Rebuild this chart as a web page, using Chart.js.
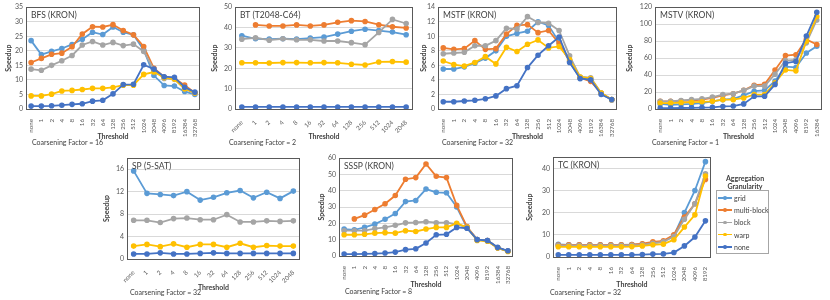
<!DOCTYPE html>
<html>
<head>
<meta charset="utf-8">
<script src="https://cdn.jsdelivr.net/npm/chart.js@4.4.1/dist/chart.umd.min.js"></script>
<style>
body { margin: 0; width: 830px; height: 300px; background: #fff; position: relative; overflow: hidden; font-family: Lato, sans-serif; }
canvas { position: absolute; }
.note { position: absolute; font-size: 7px; color: #404040; white-space: nowrap; line-height: 10px; }
#legend { position: absolute; left: 716px; top: 190px; width: 51px; height: 62px; border: 1px solid #a6a6a6; }
.ltitle { position: absolute; left: 702px; width: 86px; text-align: center; font-size: 7px; font-weight: bold; color: #404040; line-height: 9px; }
.litem { position: absolute; left: 1px; height: 10px; font-size: 7px; color: #404040; line-height: 10px; white-space: nowrap; }
.lline { position: absolute; left: 0px; top: 4.2px; width: 14px; height: 1.6px; }
.ldot { position: absolute; left: 5px; top: 3.2px; width: 3.6px; height: 3.6px; border-radius: 50%; }
.ltext { position: absolute; left: 16px; top: 0; }
</style>
</head>
<body>
<canvas id="bfs" width="205" height="150" style="left:0px;top:0px"></canvas>
<canvas id="bt" width="213" height="150" style="left:205px;top:0px"></canvas>
<canvas id="mstf" width="207" height="150" style="left:418px;top:0px"></canvas>
<canvas id="mstv" width="205" height="150" style="left:625px;top:0px"></canvas>
<canvas id="sp" width="218" height="150" style="left:100px;top:150px"></canvas>
<canvas id="sssp" width="202" height="150" style="left:318px;top:150px"></canvas>
<canvas id="tc" width="195" height="150" style="left:520px;top:150px"></canvas>

<div class="note" style="left:32px;top:137px">Coarsening Factor = 16</div>
<div class="note" style="left:229px;top:137px">Coarsening Factor = 2</div>
<div class="note" style="left:442px;top:137px">Coarsening Factor = 32</div>
<div class="note" style="left:652px;top:137px">Coarsening Factor = 1</div>
<div class="note" style="left:130px;top:287px">Coarsening Factor = 32</div>
<div class="note" style="left:345px;top:286px">Coarsening Factor = 8</div>
<div class="note" style="left:550px;top:287px">Coarsening Factor = 32</div>

<div class="ltitle" style="top:174px">Aggregation</div>
<div class="ltitle" style="top:182px">Granularity</div>
<div id="legend"></div>

<script>
// tick labels (threshold)
const thr17 = ['none', '1', '2', '4', '8', '16', '32', '64', '128', '256', '512', '1024', '2048', '4096', '8192', '16384', '32768'];
const thr16 = ['none', '1', '2', '4', '8', '16', '32', '64', '128', '256', '512', '1024', '2048', '4096', '8192', '16384'];
const thr15 = ['none', '1', '2', '4', '8', '16', '32', '64', '128', '256', '512', '1024', '2048', '4096', '8192'];
const thr13 = ['none', '1', '2', '4', '8', '16', '32', '64', '128', '256', '512', '1024', '2048'];

const seriesNames = ['grid', 'multi-block', 'block', 'warp', 'none'];
const seriesColors = ['#5B9BD5', '#ED7D31', '#A5A5A5', '#FFC000', '#4472C4'];

// BFS (KRON)
const bfsGrid  = [23.5, 18.7, 19.8, 20.8, 22.2, 24.0, 26.4, 25.6, 28.2, 26.4, 25.5, 20.3, 11.5, 8.1, 7.9, 6.0, 5.0];
const bfsMulti = [16.0, 17.4, 18.8, 19.2, 21.4, 25.8, 28.3, 28.2, 29.0, 27.0, 25.5, 21.5, 14.0, 11.0, 10.5, 8.2, 5.6];
const bfsBlock = [13.7, 13.3, 15.0, 16.6, 18.4, 22.0, 23.2, 22.0, 22.9, 21.8, 22.3, 19.8, 13.5, 10.5, 10.2, 7.0, 5.4];
const bfsWarp  = [4.5, 4.5, 5.1, 6.2, 6.4, 6.7, 7.1, 7.1, 7.4, 8.2, 8.2, 11.9, 12.7, 10.8, 10.3, 7.0, 5.5];
const bfsNone  = [1.0, 1.0, 1.1, 1.3, 1.6, 1.8, 2.7, 3.0, 5.2, 8.4, 8.5, 15.2, 13.7, 11.1, 10.9, 7.5, 5.8];

// BT (T2048-C64)
const btGrid  = [36.0, 34.5, 34.3, 34.5, 34.3, 34.8, 35.3, 36.8, 38.2, 39.2, 38.5, 37.8, 36.5];
const btMulti = [null, 41.3, 40.8, 40.8, 41.3, 40.8, 41.3, 42.6, 43.4, 43.0, 41.4, 40.4, 39.8];
const btBlock = [34.3, 35.0, 33.8, 34.5, 34.0, 34.0, 33.4, 33.4, 32.6, 31.6, 37.6, 44.0, 42.0];
const btWarp  = [22.7, 22.7, 22.6, 22.8, 22.8, 22.7, 22.8, 22.7, 22.0, 21.6, 23.1, 23.3, 23.0];
const btNone  = [1.0, 1.0, 1.0, 1.0, 1.0, 1.0, 1.0, 1.0, 1.0, 1.0, 1.0, 1.0, 1.0];

// MSTF (KRON)
const mstfGrid  = [5.5, 5.5, 5.8, 6.3, 7.0, 8.0, 10.0, 10.4, 10.7, 12.0, 11.5, 9.2, 6.5, 4.2, 4.1, 2.1, 1.3];
const mstfMulti = [8.4, 8.2, 8.3, 9.4, 8.2, 8.3, 10.3, 11.5, 11.6, 10.5, 10.8, 9.0, 6.6, 4.3, 3.8, 2.2, 1.3];
const mstfBlock = [7.6, 7.7, 7.8, 8.7, 8.7, 9.4, 11.1, 11.0, 12.7, 11.9, 11.8, 10.8, 7.3, 4.4, 4.3, 2.2, 1.2];
const mstfWarp  = [6.6, 6.1, 5.9, 6.4, 7.2, 6.2, 8.5, 7.9, 8.9, 9.5, 8.4, 8.6, 6.8, 4.4, 4.2, 2.2, 1.3];
const mstfNone  = [1.0, 1.0, 1.1, 1.2, 1.4, 1.8, 2.8, 3.2, 5.7, 7.4, 8.7, 9.9, 6.4, 4.2, 4.0, 2.0, 1.3];

// MSTV (KRON)
const mstvGrid  = [6, 5, 5.5, 6, 7, 9, 11, 12, 16, 21, 22, 33, 50, 49, 66, 74];
const mstvMulti = [9, 9, 9.5, 10, 11, 13, 16, 18, 22, 28, 29, 46, 63, 64, 82, 76];
const mstvBlock = [9, 9, 10, 11, 12, 14, 17, 18, 22, 27, 27, 41, 57, 58, 78, 105];
const mstvWarp  = [7, 7, 7.5, 8, 8.5, 9, 11, 11, 13, 17, 17, 31, 46, 45, 80, 109];
const mstvNone  = [1, 1, 1.2, 1.4, 1.7, 2, 3, 3.5, 6, 15, 15, 29, 54, 56, 86, 114];

// SP (5-SAT)
const spGrid  = [15.7, 11.7, 11.5, 11.3, 12.0, 10.5, 11.0, 11.8, 12.2, 10.9, 11.9, 10.8, 12.1];
const spBlock = [6.9, 6.9, 6.5, 7.2, 7.3, 7.0, 7.0, 7.9, 6.6, 6.6, 6.8, 6.7, 6.8];
const spWarp  = [2.3, 2.6, 2.2, 2.7, 2.1, 2.6, 2.6, 2.1, 2.8, 2.1, 2.4, 2.3, 2.3];
const spNone  = [0.9, 0.9, 1.1, 0.9, 0.9, 1.0, 1.1, 1.0, 1.0, 1.0, 1.0, 1.0, 1.0];

// SSSP (KRON)
const ssspGrid  = [16.5, 16.0, 17.5, 19.5, 22.5, 26.0, 33.3, 34.0, 41.0, 39.0, 38.7, 30.0, 17.5, 10.0, 9.5, 5.0, 3.0];
const ssspMulti = [null, 22.7, 25.0, 28.5, 32.0, 37.0, 47.0, 48.0, 56.3, 48.8, 48.0, 31.0, 18.0, 10.0, 9.5, 5.0, 3.0];
const ssspBlock = [15.5, 15.5, 15.5, 16.8, 17.5, 18.8, 20.3, 20.5, 21.0, 20.4, 20.4, 19.5, 17.5, 10.0, 9.5, 5.0, 3.0];
const ssspWarp  = [13.0, 13.0, 13.3, 14.0, 14.3, 14.0, 15.5, 15.0, 16.5, 17.5, 17.5, 20.0, 17.5, 9.5, 9.0, 5.0, 2.8];
const ssspNone  = [1.2, 1.2, 1.3, 1.5, 1.8, 2.4, 3.9, 4.4, 8.0, 13.0, 13.3, 17.5, 17.0, 10.0, 9.5, 5.3, 3.2];

// TC (KRON)
const tcGrid  = [5.7, 5.5, 5.5, 5.5, 5.5, 5.5, 5.5, 5.6, 5.8, 6.3, 7.0, 9.8, 20.0, 30.0, 43.0];
const tcMulti = [5.4, 5.5, 5.5, 5.5, 5.5, 5.5, 5.5, 5.6, 6.0, 6.8, 7.3, 10.0, 18.0, 24.0, 35.0];
const tcBlock = [5.2, 5.2, 5.2, 5.2, 5.2, 5.2, 5.2, 5.3, 5.5, 6.2, 6.8, 9.2, 17.0, 24.0, 37.5];
const tcWarp  = [4.6, 4.6, 4.6, 4.6, 4.6, 4.6, 4.6, 4.7, 5.0, 5.5, 5.8, 7.8, 13.5, 19.0, 36.5];
const tcNone  = [1.0, 1.0, 1.0, 1.0, 1.0, 1.0, 1.0, 1.0, 1.1, 1.3, 1.4, 2.0, 5.0, 9.0, 16.3];

const FONT = 'Lato, sans-serif';
const LH = 8.4; // 7px * 1.2

// plot frame + title inside the plot area
const framePlugin = {
    id: 'frame',
    beforeDatasetsDraw(chart) {
        const a = chart.chartArea, ctx = chart.ctx;
        ctx.save();
        ctx.strokeStyle = '#595959';
        ctx.lineWidth = 1;
        ctx.strokeRect(Math.round(a.left) + 0.5, Math.round(a.top) + 0.5,
            Math.round(a.right - a.left) - 1, Math.round(a.bottom - a.top));
        ctx.restore();
    },
    afterDraw(chart, args, opts) {
        const a = chart.chartArea, ctx = chart.ctx;
        ctx.save();
        ctx.fillStyle = '#404040';
        ctx.font = '8.5px ' + FONT;
        ctx.textBaseline = 'middle';
        ctx.fillText(opts.text, a.left + 5, a.top + 8);
        ctx.restore();
    }
};

// canvas = [left, top, width, height], area = [left, top, right, bottom] in page px
function makeChart(id, title, labels, series, yMax, yStep, rot, canvas, area, yTitleX, xTitleY) {
    const [cl, ct, cw, ch] = canvas;
    const yw = area[0] - cl;
    const padT = area[1] - ct;
    const padR = cl + cw - area[2];
    const xh = ct + ch - area[3];

    const datasets = [];
    series.forEach((data, i) => {
        if (!data) return;
        datasets.push({
            label: seriesNames[i],
            data: data,
            borderColor: seriesColors[i],
            backgroundColor: seriesColors[i],
            borderWidth: 1.8,
            pointRadius: 1.9,
            pointHoverRadius: 0,
            tension: 0,
            order: 4 - i
        });
    });

    return new Chart(document.getElementById(id), {
        type: 'line',
        data: { labels: labels, datasets: datasets },
        plugins: [framePlugin],
        options: {
            responsive: false,
            animation: false,
            events: [],
            layout: { autoPadding: false, padding: { left: 0, top: padT, right: padR, bottom: 0 } },
            plugins: {
                legend: { display: false },
                tooltip: { enabled: false },
                frame: { text: title }
            },
            scales: {
                x: {
                    offset: true,
                    grid: { display: false },
                    border: { display: false },
                    ticks: { autoSkip: false, minRotation: rot, maxRotation: rot, color: '#595959', padding: 2, font: { size: 6.2, family: FONT } },
                    title: { display: true, text: 'Threshold', color: '#404040', font: { size: 7, weight: 'bold', family: FONT },
                        padding: { top: 0, bottom: (ct + ch - xTitleY) - LH / 2 } },
                    afterFit: s => { s.height = xh; }
                },
                y: {
                    min: 0,
                    max: yMax,
                    grid: { color: '#d9d9d9', drawTicks: false },
                    border: { display: false },
                    ticks: { stepSize: yStep, color: '#595959', padding: 3, font: { size: 7, family: FONT } },
                    title: { display: true, text: 'Speedup', color: '#404040', font: { size: 7, weight: 'bold', family: FONT },
                        padding: { top: (yTitleX - cl) - LH / 2, bottom: 0 } },
                    afterFit: s => { s.width = yw; }
                }
            }
        }
    });
}

makeChart('bfs', 'BFS (KRON)', thr17, [bfsGrid, bfsMulti, bfsBlock, bfsWarp, bfsNone], 35, 5, 90,
    [0, 0, 205, 150], [26, 7, 200, 109], 9, 137);
makeChart('bt', 'BT (T2048-C64)', thr13, [btGrid, btMulti, btBlock, btWarp, btNone], 50, 5, 45,
    [205, 0, 213, 150], [235, 7, 413, 109], 215, 137);
makeChart('mstf', 'MSTF (KRON)', thr17, [mstfGrid, mstfMulti, mstfBlock, mstfWarp, mstfNone], 14, 2, 90,
    [418, 0, 207, 150], [438, 7, 617, 109], 424, 137);
makeChart('mstv', 'MSTV (KRON)', thr16, [mstvGrid, mstvMulti, mstvBlock, mstvWarp, mstvNone], 120, 20, 90,
    [625, 0, 205, 150], [655, 7, 822, 109], 630, 137);
makeChart('sp', 'SP (5-SAT)', thr13, [spGrid, null, spBlock, spWarp, spNone], 18, 2, 45,
    [100, 150, 218, 150], [127, 158, 300, 259], 107, 288);
makeChart('sssp', 'SSSP (KRON)', thr17, [ssspGrid, ssspMulti, ssspBlock, ssspWarp, ssspNone], 60, 10, 90,
    [318, 150, 202, 150], [339, 158, 513, 256], 322, 285);
makeChart('tc', 'TC (KRON)', thr15, [tcGrid, tcMulti, tcBlock, tcWarp, tcNone], 45, 5, 90,
    [520, 150, 195, 150], [553, 157, 711, 257], 530, 285);

// legend
const legend = document.getElementById('legend');
seriesNames.forEach((name, i) => {
    const item = document.createElement('div');
    item.className = 'litem';
    item.style.top = (2 + i * 12.2) + 'px';
    item.innerHTML = '<div class="lline" style="background:' + seriesColors[i] + '"></div>' +
        '<div class="ldot" style="background:' + seriesColors[i] + '"></div>' +
        '<span class="ltext">' + name + '</span>';
    legend.appendChild(item);
});
</script>
</body>
</html>
